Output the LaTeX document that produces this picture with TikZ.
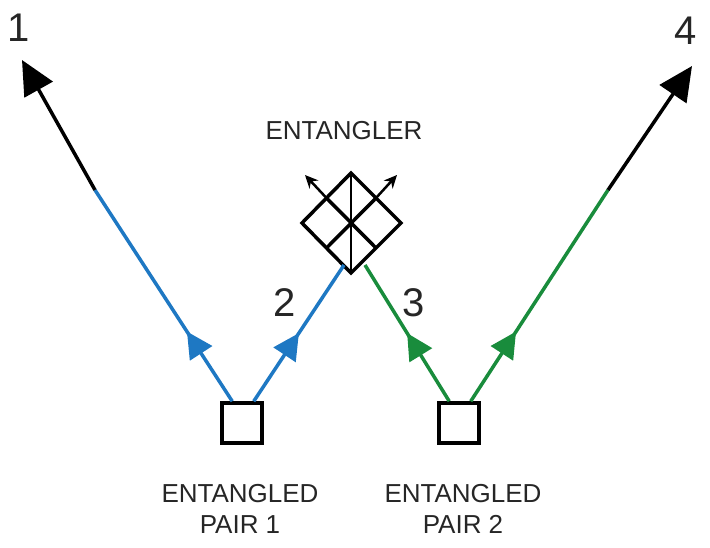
\documentclass[tikz,border=0pt]{standalone}
\usepackage{fontspec}
\setmainfont{Liberation Sans}
\usetikzlibrary{arrows.meta,decorations.markings,calc}
\definecolor{qblue}{RGB}{30,120,195}
\definecolor{qgreen}{RGB}{25,140,60}
\begin{document}
\begin{tikzpicture}[x=1pt,y=-1pt,
  ln/.style={line width=3.5pt},
  mid/.style={postaction={decorate},decoration={markings,mark=at position #1 with {\arrow{Triangle[length=26pt,width=26pt]}}}},
  box/.style={draw,line width=3.5pt,minimum size=40pt,inner sep=0pt},
  num/.style={font=\fontsize{40}{40}\selectfont,text=black!85},
  lab/.style={font=\fontsize{26}{31}\selectfont,align=center,text=black!85}]
\useasboundingbox (0,0) rectangle (710,547);
\node[box] (p1) at (242,423) {};
\node[box] (p2) at (459,423) {};
\coordinate (t1) at (22,60);
\coordinate (t4) at (692,66);
\coordinate (c1) at (95,190);
\coordinate (c4) at (608,190);
\coordinate (e2) at (344,265);
\coordinate (e3) at (365,265);
% entangler
\coordinate (T) at (351,173); \coordinate (L) at (302,223);
\coordinate (R) at (401,223); \coordinate (B) at (351,273);
\draw[line width=3.5pt,line join=miter] (T)--(R)--(B)--(L)--cycle;
\draw[line width=3.5pt] ($(T)!0.5!(R)$) -- ($(L)!0.5!(B)$);
\draw[line width=3.5pt] ($(T)!0.5!(L)$) -- ($(R)!0.5!(B)$);
\draw[line width=1.5pt] (T)--(B);
\draw[line width=2.5pt,-{Stealth[length=13pt,width=12pt]}] ($(T)!0.5!(L)$) -- (305,175);
\draw[line width=2.5pt,-{Stealth[length=13pt,width=12pt]}] ($(T)!0.5!(R)$) -- (397,175);
% lines
\draw[ln,qblue,mid=0.33] (p1.north west)++(12,0) coordinate (s1) -- (c1);
\draw[ln,-{Triangle[length=34pt,width=32pt]}] (c1) -- (t1);
\draw[ln,qblue,mid=0.5] (p1.north east)++(-10,0) coordinate (s2) -- (e2);
\draw[ln,qgreen,mid=0.5] (p2.north west)++(12,0) coordinate (s3) -- (e3);
\draw[ln,qgreen,mid=0.33] (p2.north east)++(-10,0) coordinate (s4) -- (c4);
\draw[ln,-{Triangle[length=34pt,width=32pt]}] (c4) -- (t4);
% labels
\node[num] (n1) at (19,28) {1};
\node[num] (n4) at (686,31) {4};
\node[num] (n2) at (285,303) {2};
\node[num] (n3) at (414,303) {3};
\node[lab] (le) at (344,131) {ENTANGLER};
\node[lab] (l1) at (240,509) {ENTANGLED\\PAIR 1};
\node[lab] (l2) at (463,509) {ENTANGLED\\PAIR 2};
\end{tikzpicture}
\end{document}
